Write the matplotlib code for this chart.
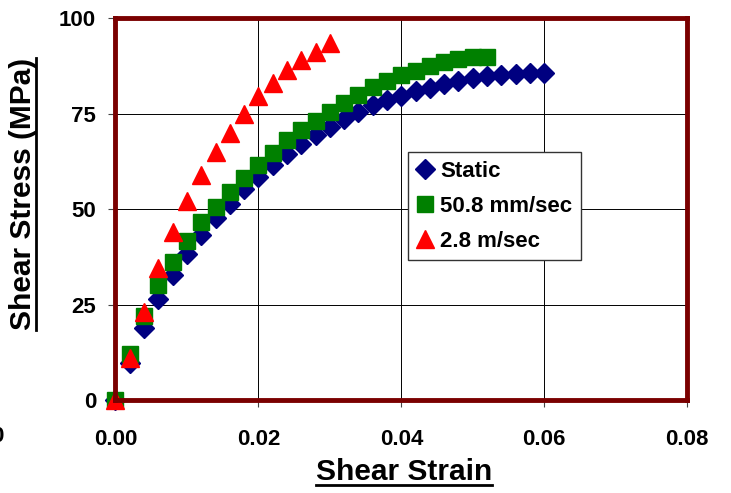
import matplotlib
matplotlib.use("Agg")
import matplotlib.pyplot as plt
from matplotlib.lines import Line2D
from matplotlib.transforms import IdentityTransform

plt.rcParams['font.family'] = ['Liberation Sans', 'DejaVu Sans']
plt.rcParams['font.weight'] = 'bold'

# data (strain step 0.002)
static_strain = [0.000, 0.002, 0.004, 0.006, 0.008, 0.010, 0.012, 0.014, 0.016, 0.018,
                 0.020, 0.022, 0.024, 0.026, 0.028, 0.030, 0.032, 0.034, 0.036, 0.038,
                 0.040, 0.042, 0.044, 0.046, 0.048, 0.050, 0.052, 0.054, 0.056, 0.058, 0.060]
static_stress = [0.0, 9.7, 18.8, 26.4, 32.7, 38.2, 43.2, 47.6, 51.3, 55.2,
                 58.4, 61.5, 64.4, 67.0, 69.4, 71.5, 73.6, 75.5, 77.3, 78.6,
                 79.7, 80.8, 81.8, 82.7, 83.5, 84.2, 84.7, 85.1, 85.3, 85.5, 85.5]

slow_strain = [0.000, 0.002, 0.004, 0.006, 0.008, 0.010, 0.012, 0.014, 0.016, 0.018,
               0.020, 0.022, 0.024, 0.026, 0.028, 0.030, 0.032, 0.034, 0.036, 0.038,
               0.040, 0.042, 0.044, 0.046, 0.048, 0.050, 0.052]
slow_stress = [0.0, 12.0, 22.0, 30.0, 36.0, 41.5, 46.5, 50.5, 54.4, 58.0,
               61.5, 64.7, 68.0, 70.7, 73.0, 75.4, 77.7, 79.8, 81.9, 83.6,
               85.0, 86.2, 87.4, 88.4, 89.2, 89.7, 89.8]

fast_strain = [0.000, 0.002, 0.004, 0.006, 0.008, 0.010, 0.012, 0.014, 0.016, 0.018,
               0.020, 0.022, 0.024, 0.026, 0.028, 0.030]
fast_stress = [0.0, 11.0, 23.0, 34.5, 44.0, 52.0, 59.0, 65.0, 70.0, 75.0,
               79.5, 83.0, 86.5, 89.0, 91.0, 93.5]

labels = ["Static", "50.8 mm/sec", "2.8 m/sec"]
x_ticks = [0.00, 0.02, 0.04, 0.06, 0.08]
y_ticks = [0, 25, 50, 75, 100]

fig = plt.figure(figsize=(7.31, 4.93), dpi=100)
ax = fig.add_axes([0.158, 0.1886, 0.782, 0.7749])

ax.plot(static_strain, static_stress, linestyle='none', marker='D', markersize=10,
        color='#000080', label=labels[0], zorder=3)
ax.plot(slow_strain, slow_stress, linestyle='none', marker='s', markersize=11,
        color='#008000', label=labels[1], zorder=4)
ax.plot(fast_strain, fast_stress, linestyle='none', marker='^', markersize=13,
        color='#ff0000', label=labels[2], zorder=5)

ax.set_xlim(0, 0.08)
ax.set_ylim(0, 100)
ax.set_xticks(x_ticks)
ax.set_xticklabels([f"{v:.2f}" for v in x_ticks])
ax.set_yticks(y_ticks)
ax.grid(True, color='black', linewidth=0.7)
ax.set_axisbelow(True)
for s in ax.spines.values():
    s.set_color('#7a0000')
    s.set_linewidth(3.5)
    s.set_zorder(6)
ax.tick_params(axis='both', direction='out', length=5, width=0.8, color='#444444',
               labelsize=16)
ax.tick_params(axis='x', pad=16)
ax.tick_params(axis='y', pad=9)
for t in ax.get_xticklabels() + ax.get_yticklabels():
    t.set_fontweight('bold')
for m in ax.lines:
    m.set_clip_on(False)

leg = ax.legend(loc='upper left', bbox_to_anchor=(0.512, 0.649), fontsize=16,
                frameon=True, fancybox=False, edgecolor='#333333', framealpha=1,
                handlelength=0.75, handletextpad=0.3, borderpad=0.4, labelspacing=0.62,
                borderaxespad=0, markerscale=1.0)
leg.get_frame().set_linewidth(1.0)
for t in leg.get_texts():
    t.set_fontweight('bold')

xl = fig.text(404 / 731, 1 - 472 / 493, "Shear Strain", ha='center', va='center',
              fontsize=21.5, fontweight='bold')
yl = fig.text(23 / 731, 1 - 194 / 493, "Shear Stress (MPa)", ha='center', va='center',
              rotation=90, fontsize=21.5, fontweight='bold')
fig.text(4 / 731, 1 - 437 / 493, "0", ha='right', va='center', fontsize=16,
         fontweight='bold')

# underline the axis titles
fig.canvas.draw()
r = fig.canvas.get_renderer()
bb = xl.get_window_extent(r)
fig.add_artist(Line2D([bb.x0, bb.x1], [bb.y0 + 1, bb.y0 + 1], color='black',
                      linewidth=2, transform=IdentityTransform()))
bb = yl.get_window_extent(r)
fig.add_artist(Line2D([bb.x1 - 1, bb.x1 - 1], [bb.y0, bb.y1], color='black',
                      linewidth=2, transform=IdentityTransform()))

fig.savefig("out.png", dpi=100)
